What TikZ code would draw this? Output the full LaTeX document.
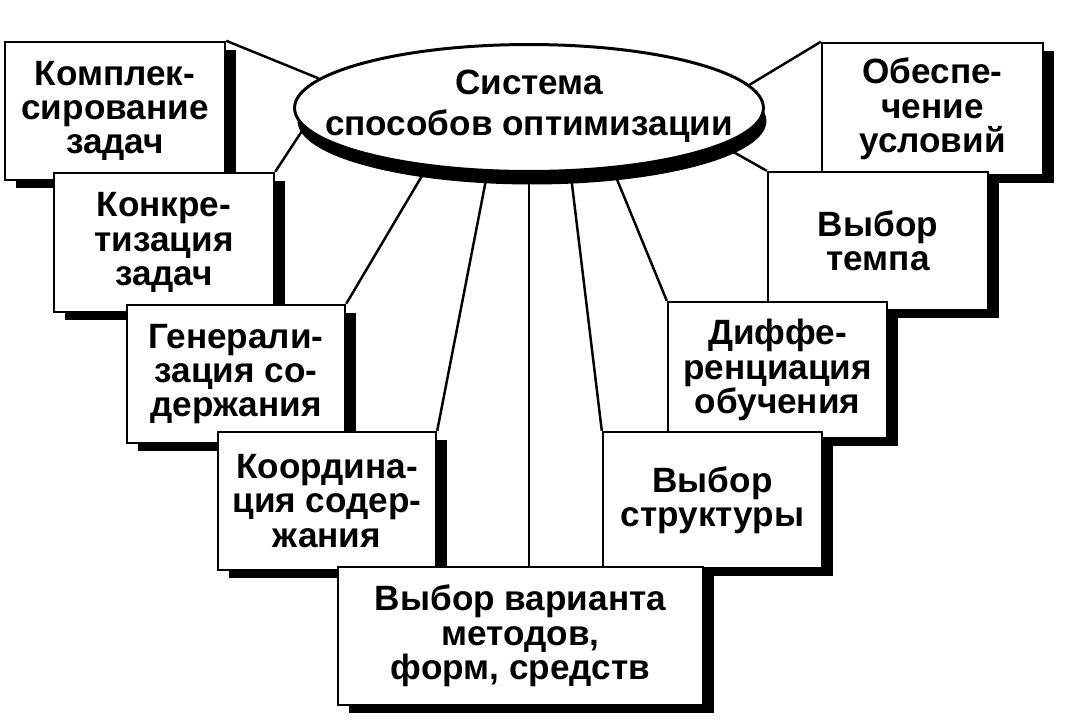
\documentclass[tikz,border=0pt]{standalone}
\usepackage{fontspec}
\setmainfont{Liberation Sans}
\usetikzlibrary{shadows,shapes.geometric,calc}
\pgfdeclarelayer{bg}
\pgfsetlayers{bg,main}
\tikzset{
  box/.style={draw, fill=white, line width=1.4pt, inner sep=0pt, align=center,
    font=\fontsize{20}{19.5}\selectfont\bfseries,
    general shadow={fill=black, shadow xshift=0.22cm, shadow yshift=-0.16cm}},
  oval/.style={ellipse, draw, fill=white, line width=1.7pt, inner sep=0pt,
    minimum width=9.38cm, minimum height=2.54cm,
    general shadow={fill=black, shadow xshift=0.06cm, shadow yshift=-0.26cm}},
  ovaltext/.style={align=center, inner sep=0pt, font=\fontsize{20}{23.5}\selectfont\bfseries},
  link/.style={line width=1.4pt}
}
\begin{document}
\begin{tikzpicture}[x=0.02cm, y=-0.02cm]
\useasboundingbox (0,0) rectangle (1066,721);
% left chain
\node[box, minimum width=4.4cm, minimum height=2.76cm] (b1) at (115,111) {Комплек-\\сирование\\задач};
\node[box, minimum width=4.4cm, minimum height=2.78cm] (b2) at (164,242.5) {Конкре-\\тизация\\задач};
\node[box, minimum width=4.36cm, minimum height=2.76cm] (b3) at (236,374) {Генерали-\\зация со-\\держания};
\node[box, minimum width=4.36cm, minimum height=2.76cm] (b4) at (327,501) {Координа-\\ция содер-\\жания};
% right chain
\node[box, minimum width=4.42cm, minimum height=2.64cm] (b9) at (932.5,109) {Обеспе-\\чение\\условий};
\node[box, minimum width=4.4cm, minimum height=2.76cm] (b8) at (878,241) {Выбор\\темпа};
\node[box, minimum width=4.38cm, minimum height=2.72cm] (b7) at (777.5,370) {Диффе-\\ренциация\\обучения};
\node[box, minimum width=4.38cm, minimum height=2.72cm] (b6) at (712.5,500) {Выбор\\структуры};
% bottom
\node[box, minimum width=7.3cm, minimum height=2.76cm] (b5) at (520.5,636) {Выбор варианта\\методов,\\форм, средств};
% ellipse
\node[oval] (e) at (529,108) {};
\node[ovaltext] (et) at ($(e.center)+(0,-2)$) {Система\\способов оптимизации};
\begin{pgfonlayer}{bg}
\draw[link] (b1.north east) -- (e.172.6);
\draw[link] (b2.north east) -- (e.185.6);
\draw[link] (b3.north east) -- (e.210);
\draw[link] (b4.north east) -- (e.237.4);
\draw[link] (e.270) -- (e.270 |- b5.north);
\draw[link] (b6.north west) -- (e.303.3);
\draw[link] (b7.north west) -- (e.324.2);
\draw[link] (b8.north west) -- (e.349.3);
\draw[link] (b9.north west) -- (e.6.7);
\end{pgfonlayer}
\end{tikzpicture}
\end{document}
